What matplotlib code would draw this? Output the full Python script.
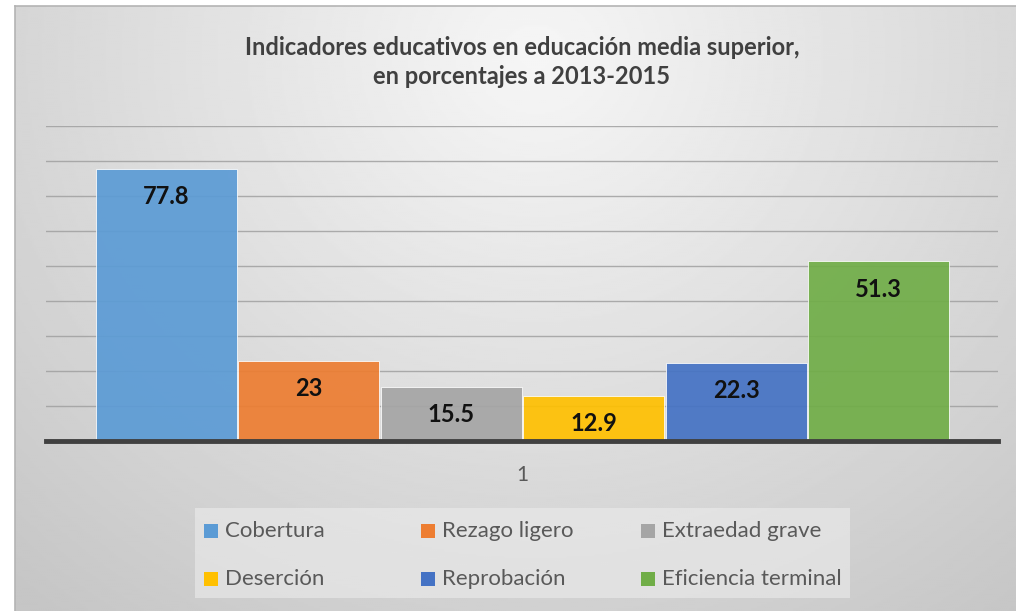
import numpy as np
import matplotlib
matplotlib.use("Agg")
import matplotlib.pyplot as plt
from matplotlib.patches import Rectangle

# data
categorias = ["Cobertura", "Rezago ligero", "Extraedad grave",
              "Deserción", "Reprobación", "Eficiencia terminal"]
valores = [77.8, 23, 15.5, 12.9, 22.3, 51.3]
colores = ["#5B9BD5", "#ED7D31", "#A5A5A5", "#FFC000", "#4472C4", "#70AD47"]
etiqueta_x = "1"
titulo = "Indicadores educativos en educación media superior,\nen porcentajes a 2013-2015"

plt.rcParams['font.family'] = ['Lato', 'DejaVu Sans']

W, H = 1016, 611
fig = plt.figure(figsize=(W / 100, H / 100), dpi=100)
fig.patch.set_facecolor("white")

# radial gradient background of the chart frame
bg = fig.add_axes([15 / W, 0, 1 - 15 / W, 1 - 6 / H])
yy, xx = np.mgrid[0:1:300j, 0:1:500j]
r = np.sqrt(((xx - 0.52) / 0.62) ** 2 + ((yy - 0.08) / 0.95) ** 2)
shade = 0.965 - 0.19 * np.clip(r, 0, 1.25) / 1.25
bg.imshow(shade, cmap="gray", vmin=0, vmax=1, aspect="auto",
          extent=[0, 1, 1, 0])
bg.set_xlim(0, 1)
bg.set_ylim(1, 0)
bg.set_xticks([])
bg.set_yticks([])
for k, s in bg.spines.items():
    s.set_color("#b4b4b4")
    s.set_linewidth(1.2)
    if k in ("right", "bottom"):
        s.set_visible(False)

# main plot
zero_px = 441
ax = fig.add_axes([46 / W, (H - zero_px) / H, (998 - 46) / W, 315 / H])
ax.patch.set_alpha(0)

n = len(valores)
xs = np.arange(n) - (n - 1) / 2
ax.bar(xs, valores, width=0.99, color=colores, alpha=0.92,
       edgecolor="white", linewidth=0.6, zorder=2)

ax.set_xlim(-3.344, 3.336)
ax.set_ylim(0, 90)
ax.set_yticks(np.arange(10, 91, 10))
ax.yaxis.grid(True, color="#a0a0a0", linewidth=1, alpha=0.85, zorder=1)
ax.tick_params(axis="y", left=False, labelleft=False)
ax.set_xticks([0])
ax.set_xticklabels([etiqueta_x], fontsize=15, color="#595959")
ax.tick_params(axis="x", bottom=False, pad=14)
for k in ["top", "right", "left"]:
    ax.spines[k].set_visible(False)
ax.spines["bottom"].set_color("#404040")
ax.spines["bottom"].set_linewidth(3.5)
ax.spines["bottom"].set_zorder(3)

for x, v in zip(xs, valores):
    ax.annotate(f"{v:g}", (x, v), xytext=(0, -20), textcoords="offset points",
                ha="center", va="center", fontsize=17, fontweight="bold",
                color="#111111", zorder=4)

fig.text(522 / W, 1 - 62 / H, titulo, ha="center", va="center",
         fontsize=17, fontweight="bold", color="#404040", linespacing=1.3)

# legend drawn by hand: Excel keeps equal column widths
caja = Rectangle((195 / W, 1 - 598 / H), (850 - 195) / W, 90 / H,
                 transform=fig.transFigure, facecolor="#ececec", alpha=0.6,
                 edgecolor="none")
fig.add_artist(caja)
col_x = [204, 421, 641]
fila_y = [531, 579]
for i, (lab, c) in enumerate(zip(categorias, colores)):
    px = col_x[i % 3]
    py = fila_y[i // 3]
    fig.add_artist(Rectangle((px / W, 1 - (py + 7) / H), 14 / W, 14 / H,
                             transform=fig.transFigure, facecolor=c,
                             edgecolor="none"))
    fig.text((px + 21) / W, 1 - py / H, lab, ha="left", va="center",
             fontsize=16, color="#595959")

fig.savefig("out.png", dpi=100)
